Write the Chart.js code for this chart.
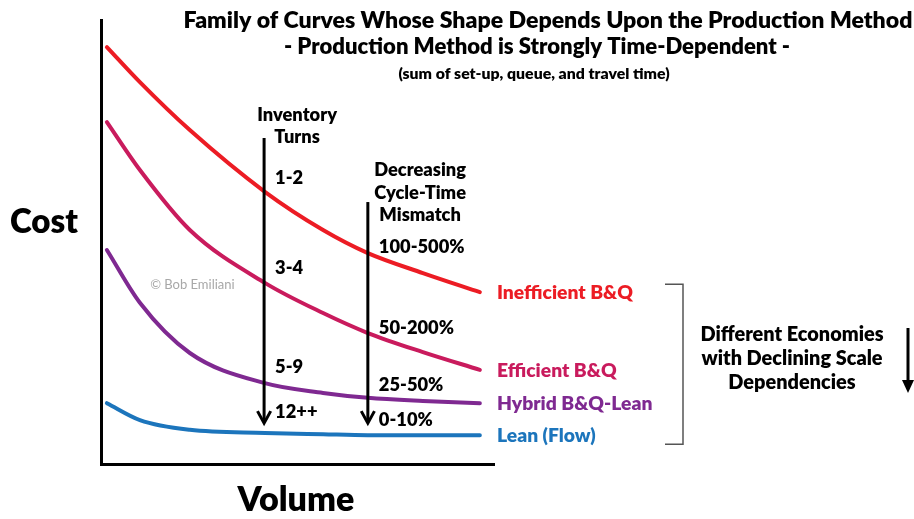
<!DOCTYPE html>
<html>
<head>
<meta charset="utf-8">
<script src="https://cdn.jsdelivr.net/npm/chart.js@4.4.1/dist/chart.umd.min.js"></script>
<style>
  html, body { margin: 0; padding: 0; background: #fff; }
  #chart { display: block; }
</style>
</head>
<body>
<canvas id="chart" width="914" height="519"></canvas>
<script>
// Curve data (volume 0-100, cost 0-100)
const volume = [1.5, 9.9, 22.6, 41.7, 56.5, 67.9, 81.9, 96.4];
const inefficientCost = [93.9, 86.0, 75.2, 61.3, 52.7, 47.5, 43.0, 38.7];
const efficientCost = [77.0, 66.2, 52.7, 40.8, 34.0, 29.5, 25.2, 21.2];
const hybridCost = [48.2, 36.3, 25.0, 18.2, 16.0, 14.9, 14.2, 13.7];
const leanCost = [13.7, 9.9, 7.7, 7.0, 6.7, 6.5, 6.5, 6.5];

const seriesNames = ["Inefficient B&Q", "Efficient B&Q", "Hybrid B&Q-Lean", "Lean (Flow)"];
const seriesColors = ["#ec1c24", "#c91b5d", "#7f2991", "#1c75bc"];

// Annotation text
const turnsLabels = ["1-2", "3-4", "5-9", "12++"];
const turnsLevels = [64.4, 44.1, 21.8, 11.7];
const mismatchLabels = ["100-500%", "50-200%", "25-50%", "0-10%"];
const mismatchLevels = [48.9, 30.6, 17.8, 9.9];
const titleLines = [
  "Family of Curves Whose Shape Depends Upon the Production Method",
  "- Production Method is Strongly Time-Dependent -",
  "(sum of set-up, queue, and travel time)",
];

const FONT = "Lato, 'Open Sans', sans-serif";
const W = 800;

// font size that makes `text` about `width` px wide
function sizeFor(ctx, text, width) {
  ctx.font = W + " 20px " + FONT;
  return (20 * width) / ctx.measureText(text).width;
}
function setSize(ctx, px) {
  ctx.font = W + " " + px.toFixed(1) + "px " + FONT;
}

function pts(ys) {
  return volume.map((x, i) => ({ x: x, y: ys[i] }));
}

function arrowDown(ctx, x, y1, y2, head) {
  ctx.beginPath();
  ctx.moveTo(x, y1);
  ctx.lineTo(x, y2 - 2);
  ctx.stroke();
  ctx.beginPath();
  ctx.moveTo(x - head * 0.55, y2 - head);
  ctx.lineTo(x, y2);
  ctx.lineTo(x + head * 0.55, y2 - head);
  ctx.stroke();
}

const annotations = {
  id: "annotations",
  afterDraw(chart) {
    const ctx = chart.ctx;
    const xs = chart.scales.x;
    const ys = chart.scales.y;
    const area = chart.chartArea;
    ctx.save();
    ctx.fillStyle = "#000";
    ctx.textBaseline = "middle";

    // titles
    ctx.textAlign = "center";
    setSize(ctx, sizeFor(ctx, titleLines[0], 730));
    ctx.fillText(titleLines[0], 548, 21);
    setSize(ctx, sizeFor(ctx, titleLines[1], 507));
    ctx.fillText(titleLines[1], 537, 47);
    setSize(ctx, sizeFor(ctx, titleLines[2], 272));
    ctx.fillText(titleLines[2], 534, 74);

    // axis titles
    setSize(ctx, sizeFor(ctx, "Cost", 68));
    ctx.textAlign = "left";
    ctx.fillText("Cost", 10, 222);
    setSize(ctx, sizeFor(ctx, "Volume", 117));
    ctx.textAlign = "center";
    ctx.fillText("Volume", 296, 500);

    // copyright
    ctx.font = "13px " + FONT;
    ctx.fillStyle = "#a8a8a8";
    ctx.textAlign = "left";
    ctx.fillText("\u00a9 Bob Emiliani", xs.getPixelForValue(12.5), ys.getPixelForValue(40.3));

    // inventory turns / cycle-time mismatch
    ctx.fillStyle = "#000";
    setSize(ctx, sizeFor(ctx, "Decreasing", 92));
    ctx.textAlign = "center";
    ctx.fillText("Inventory", xs.getPixelForValue(49.9), ys.getPixelForValue(78.6));
    ctx.fillText("Turns", xs.getPixelForValue(49.9), ys.getPixelForValue(73.6));
    ctx.fillText("Decreasing", xs.getPixelForValue(81.2), ys.getPixelForValue(66.2));
    ctx.fillText("Cycle-Time", xs.getPixelForValue(81.2), ys.getPixelForValue(61.0));
    ctx.fillText("Mismatch", xs.getPixelForValue(81.2), ys.getPixelForValue(56.1));

    ctx.textAlign = "left";
    turnsLabels.forEach((t, i) => {
      ctx.fillText(t, xs.getPixelForValue(44.3), ys.getPixelForValue(turnsLevels[i]));
    });
    mismatchLabels.forEach((t, i) => {
      ctx.fillText(t, xs.getPixelForValue(70.7), ys.getPixelForValue(mismatchLevels[i]));
    });

    // vertical arrows
    ctx.strokeStyle = "#000";
    ctx.lineWidth = 3;
    ctx.lineCap = "butt";
    arrowDown(ctx, xs.getPixelForValue(41.5), ys.getPixelForValue(73.4), ys.getPixelForValue(9.2), 12);
    arrowDown(ctx, xs.getPixelForValue(67.9), ys.getPixelForValue(59.0), ys.getPixelForValue(9.2), 12);

    // series labels at curve ends
    setSize(ctx, sizeFor(ctx, seriesNames[0], 136));
    const ends = chart.data.datasets.map((d) => d.data[d.data.length - 1].y);
    const labelYs = ends.map((v) => ys.getPixelForValue(v) + 1);
    chart.data.datasets.forEach((d, i) => {
      ctx.fillStyle = d.borderColor;
      ctx.fillText(seriesNames[i], area.right + 3, labelYs[i]);
    });

    // bracket
    ctx.strokeStyle = "#555";
    ctx.lineWidth = 1.5;
    const bx = 683;
    const top = labelYs[0] - 9;
    const bot = labelYs[3] + 8;
    ctx.beginPath();
    ctx.moveTo(665, top);
    ctx.lineTo(bx, top);
    ctx.lineTo(bx, bot);
    ctx.lineTo(665, bot);
    ctx.stroke();

    // economies note
    ctx.fillStyle = "#000";
    setSize(ctx, sizeFor(ctx, "Different Economies", 183));
    ctx.textAlign = "center";
    ctx.fillText("Different Economies", 792, 335);
    ctx.fillText("with Declining Scale", 792, 359);
    ctx.fillText("Dependencies", 792, 383);

    ctx.strokeStyle = "#000";
    ctx.lineWidth = 3;
    ctx.beginPath();
    ctx.moveTo(908, 328);
    ctx.lineTo(908, 382);
    ctx.stroke();
    ctx.beginPath();
    ctx.moveTo(902, 380);
    ctx.lineTo(914, 380);
    ctx.lineTo(908, 393);
    ctx.closePath();
    ctx.fill();

    ctx.restore();
  },
};

const datasets = [inefficientCost, efficientCost, hybridCost, leanCost].map((ys, i) => ({
  label: seriesNames[i],
  data: pts(ys),
  borderColor: seriesColors[i],
  borderWidth: 4,
  borderCapStyle: "round",
  pointRadius: 0,
  fill: false,
  cubicInterpolationMode: "monotone",
}));

new Chart(document.getElementById("chart"), {
  type: "line",
  data: { datasets: datasets },
  options: {
    responsive: false,
    animation: false,
    layout: { padding: { left: 101, top: 20, right: 420, bottom: 55 } },
    plugins: { legend: { display: false }, tooltip: { enabled: false } },
    scales: {
      x: {
        type: "linear",
        min: 0,
        max: 100,
        ticks: { display: false },
        grid: { display: false, drawTicks: false },
        border: { display: true, color: "#000", width: 3 },
        afterFit: (s) => { s.height = 0; },
      },
      y: {
        min: 0,
        max: 100,
        ticks: { display: false },
        grid: { display: false, drawTicks: false },
        border: { display: true, color: "#000", width: 3 },
        afterFit: (s) => { s.width = 0; },
      },
    },
  },
  plugins: [annotations],
});
</script>
</body>
</html>
